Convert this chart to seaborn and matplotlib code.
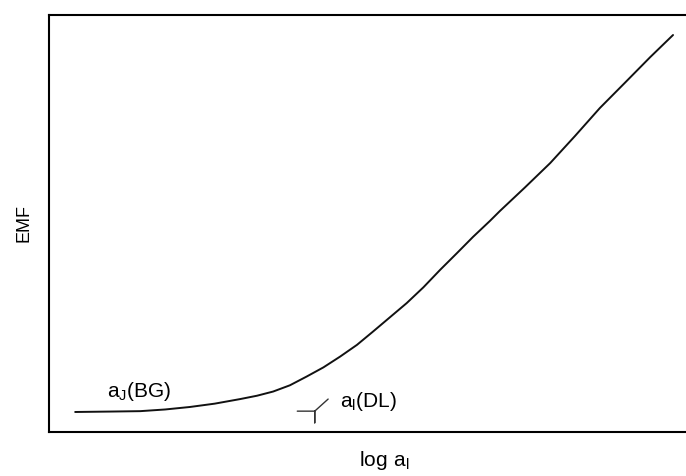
import matplotlib
matplotlib.use("Agg")
import matplotlib.pyplot as plt
import seaborn as sns
import pandas as pd

# EMF 곡선 (임의 단위, 그림에서 읽은 값)
log_a = [0.39, 0.91, 1.36, 1.73, 2.10, 2.47, 2.85, 3.10, 3.34, 3.59,
         3.84, 4.09, 4.34, 4.59, 4.83, 5.08, 5.33, 5.58, 5.83, 6.08,
         6.32, 6.57, 6.72, 7.09, 7.47, 7.84, 8.21, 8.58, 8.96, 9.30]
emf = [0.48, 0.49, 0.50, 0.54, 0.60, 0.68, 0.79, 0.87, 0.97, 1.12,
       1.33, 1.55, 1.81, 2.09, 2.41, 2.75, 3.09, 3.47, 3.89, 4.29,
       4.68, 5.06, 5.30, 5.86, 6.45, 7.10, 7.77, 8.37, 8.99, 9.52]

# 검출한계 표시 기호 (DL)
dl_x = [3.70, 3.96, 3.96, 3.96, 4.16]
dl_y = [0.50, 0.50, 0.22, 0.50, 0.79]

bg_label = r"$\mathregular{a_J(BG)}$"
dl_label = r"$\mathregular{a_l(DL)}$"
x_label = r"$\mathregular{log\ a_l}$"
y_label = "EMF"

sns.set_style("white")
plt.rcParams['font.family'] = ['Liberation Sans', 'DejaVu Sans']
plt.rcParams['mathtext.fontset'] = 'custom'
plt.rcParams['mathtext.rm'] = 'Liberation Sans'
plt.rcParams['text.color'] = 'black'
plt.rcParams['axes.labelcolor'] = 'black'

df = pd.DataFrame({'log_a': log_a, 'emf': emf})

fig = plt.figure(figsize=(6.86, 4.76), dpi=100)
ax = fig.add_axes([49 / 686, 44 / 476, 671 / 686, 417 / 476])

sns.lineplot(data=df, x='log_a', y='emf', color='#111111', linewidth=1.4, ax=ax)
ax.plot(dl_x, dl_y, color='#333333', linewidth=1.0)

ax.text(0.86, 0.98, bg_label, fontsize=15, va='center', ha='left')
ax.text(4.34, 0.74, dl_label, fontsize=15, va='center', ha='left')

ax.set_xlim(0, 10)
ax.set_ylim(0, 10)
ax.set_xticks([])
ax.set_yticks([])
ax.set_xlabel(x_label, fontsize=15, labelpad=12)
ax.set_ylabel(y_label, fontsize=13, labelpad=12)

for side in ['left', 'bottom', 'top']:
    ax.spines[side].set_color('black')
    ax.spines[side].set_linewidth(1.5)
ax.spines['right'].set_visible(False)

fig.savefig("out.png", dpi=100)
